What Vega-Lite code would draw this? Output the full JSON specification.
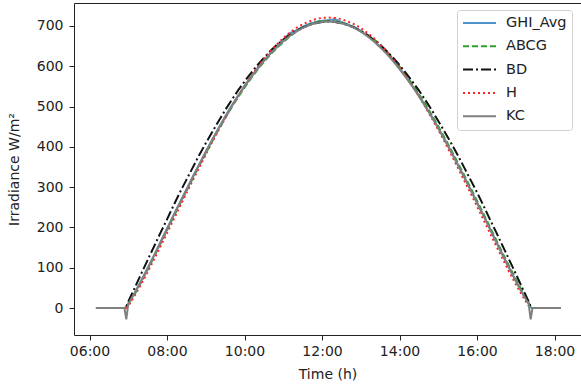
{
"$schema":"https://vega.github.io/schema/vega-lite/v6.json",
"width":507,"height":332,
"autosize":{"type":"none"},
"padding":{"left":74,"top":3,"right":0,"bottom":51},
"config":{"font":"DejaVu Sans","view":{"stroke":"#222","strokeWidth":1},
"axis":{"grid":false,"domain":false,"tickColor":"#222","tickSize":5,"labelFontSize":14,"titleFontSize":14,"labelColor":"#222","titleColor":"#222","titleFontWeight":"normal"}},
"data":{"values":[
{"h":6.1667,"GHI_Avg":0,"ABCG":0,"BD":0,"H":0,"KC":0},
{"h":6.5,"GHI_Avg":0,"ABCG":0,"BD":0,"H":0,"KC":0},
{"h":6.9,"GHI_Avg":0,"ABCG":0,"BD":0,"H":0,"KC":0},
{"h":6.95,"GHI_Avg":2,"ABCG":1,"BD":4,"H":0,"KC":-28},
{"h":7.0,"GHI_Avg":11,"ABCG":9,"BD":16,"H":5,"KC":10},
{"h":7.1667,"GHI_Avg":38,"ABCG":34,"BD":50,"H":31,"KC":37},
{"h":7.3333,"GHI_Avg":68,"ABCG":64,"BD":85,"H":59,"KC":67},
{"h":7.5,"GHI_Avg":99,"ABCG":95,"BD":119,"H":89,"KC":98},
{"h":7.6667,"GHI_Avg":131,"ABCG":127,"BD":153,"H":121,"KC":130},
{"h":7.8333,"GHI_Avg":164,"ABCG":160,"BD":187,"H":153,"KC":163},
{"h":8.0,"GHI_Avg":197,"ABCG":193,"BD":220,"H":186,"KC":196},
{"h":8.1667,"GHI_Avg":230,"ABCG":226,"BD":254,"H":219,"KC":229},
{"h":8.3333,"GHI_Avg":262,"ABCG":258,"BD":287,"H":252,"KC":261},
{"h":8.5,"GHI_Avg":294,"ABCG":290,"BD":318,"H":285,"KC":293},
{"h":8.6667,"GHI_Avg":326,"ABCG":322,"BD":349,"H":317,"KC":325},
{"h":8.8333,"GHI_Avg":357,"ABCG":353,"BD":380,"H":349,"KC":356},
{"h":9.0,"GHI_Avg":388,"ABCG":384,"BD":409,"H":381,"KC":387},
{"h":9.1667,"GHI_Avg":418,"ABCG":414,"BD":437,"H":412,"KC":417},
{"h":9.3333,"GHI_Avg":447,"ABCG":443,"BD":464,"H":442,"KC":446},
{"h":9.5,"GHI_Avg":475,"ABCG":471,"BD":491,"H":471,"KC":474},
{"h":9.6667,"GHI_Avg":502,"ABCG":498,"BD":516,"H":499,"KC":500},
{"h":9.8333,"GHI_Avg":527,"ABCG":523,"BD":540,"H":526,"KC":526},
{"h":10.0,"GHI_Avg":551,"ABCG":547,"BD":562,"H":551,"KC":550},
{"h":10.1667,"GHI_Avg":574,"ABCG":570,"BD":583,"H":575,"KC":572},
{"h":10.3333,"GHI_Avg":595,"ABCG":591,"BD":603,"H":597,"KC":593},
{"h":10.5,"GHI_Avg":615,"ABCG":611,"BD":621,"H":618,"KC":613},
{"h":10.6667,"GHI_Avg":633,"ABCG":629,"BD":638,"H":637,"KC":631},
{"h":10.8333,"GHI_Avg":649,"ABCG":645,"BD":653,"H":654,"KC":647},
{"h":11.0,"GHI_Avg":666,"ABCG":660,"BD":666,"H":670,"KC":662},
{"h":11.1667,"GHI_Avg":682,"ABCG":674,"BD":678,"H":683,"KC":675},
{"h":11.3333,"GHI_Avg":689,"ABCG":686,"BD":688,"H":695,"KC":686},
{"h":11.5,"GHI_Avg":698,"ABCG":696,"BD":696,"H":704,"KC":695},
{"h":11.6667,"GHI_Avg":705,"ABCG":703,"BD":702,"H":711,"KC":702},
{"h":11.8333,"GHI_Avg":710,"ABCG":709,"BD":707,"H":717,"KC":707},
{"h":12.0,"GHI_Avg":713,"ABCG":712,"BD":710,"H":720,"KC":710},
{"h":12.1667,"GHI_Avg":714,"ABCG":713,"BD":711,"H":721,"KC":711},
{"h":12.3333,"GHI_Avg":717,"ABCG":712,"BD":710,"H":720,"KC":710},
{"h":12.5,"GHI_Avg":710,"ABCG":709,"BD":707,"H":717,"KC":707},
{"h":12.6667,"GHI_Avg":704,"ABCG":703,"BD":702,"H":711,"KC":702},
{"h":12.8333,"GHI_Avg":697,"ABCG":696,"BD":696,"H":704,"KC":695},
{"h":13.0,"GHI_Avg":688,"ABCG":687,"BD":688,"H":695,"KC":686},
{"h":13.1667,"GHI_Avg":676,"ABCG":677,"BD":678,"H":683,"KC":675},
{"h":13.3333,"GHI_Avg":664,"ABCG":668,"BD":666,"H":670,"KC":662},
{"h":13.5,"GHI_Avg":649,"ABCG":653,"BD":653,"H":654,"KC":647},
{"h":13.6667,"GHI_Avg":633,"ABCG":637,"BD":638,"H":637,"KC":631},
{"h":13.8333,"GHI_Avg":615,"ABCG":619,"BD":621,"H":618,"KC":613},
{"h":14.0,"GHI_Avg":595,"ABCG":599,"BD":603,"H":597,"KC":593},
{"h":14.1667,"GHI_Avg":574,"ABCG":578,"BD":583,"H":575,"KC":572},
{"h":14.3333,"GHI_Avg":551,"ABCG":555,"BD":562,"H":551,"KC":550},
{"h":14.5,"GHI_Avg":527,"ABCG":531,"BD":540,"H":526,"KC":526},
{"h":14.6667,"GHI_Avg":502,"ABCG":506,"BD":516,"H":499,"KC":500},
{"h":14.8333,"GHI_Avg":475,"ABCG":479,"BD":491,"H":471,"KC":474},
{"h":15.0,"GHI_Avg":447,"ABCG":451,"BD":464,"H":442,"KC":446},
{"h":15.1667,"GHI_Avg":418,"ABCG":422,"BD":437,"H":412,"KC":417},
{"h":15.3333,"GHI_Avg":388,"ABCG":392,"BD":409,"H":381,"KC":387},
{"h":15.5,"GHI_Avg":357,"ABCG":361,"BD":380,"H":349,"KC":356},
{"h":15.6667,"GHI_Avg":326,"ABCG":330,"BD":349,"H":317,"KC":325},
{"h":15.8333,"GHI_Avg":294,"ABCG":298,"BD":318,"H":285,"KC":293},
{"h":16.0,"GHI_Avg":262,"ABCG":266,"BD":287,"H":252,"KC":261},
{"h":16.1667,"GHI_Avg":230,"ABCG":234,"BD":254,"H":219,"KC":229},
{"h":16.3333,"GHI_Avg":197,"ABCG":201,"BD":220,"H":186,"KC":196},
{"h":16.5,"GHI_Avg":164,"ABCG":168,"BD":187,"H":153,"KC":163},
{"h":16.6667,"GHI_Avg":131,"ABCG":135,"BD":153,"H":121,"KC":130},
{"h":16.8333,"GHI_Avg":99,"ABCG":103,"BD":119,"H":89,"KC":98},
{"h":17.0,"GHI_Avg":68,"ABCG":72,"BD":85,"H":59,"KC":67},
{"h":17.1667,"GHI_Avg":38,"ABCG":42,"BD":50,"H":31,"KC":37},
{"h":17.3333,"GHI_Avg":11,"ABCG":13,"BD":16,"H":5,"KC":10},
{"h":17.3833,"GHI_Avg":1,"ABCG":2,"BD":4,"H":0,"KC":-28},
{"h":17.4333,"GHI_Avg":0,"ABCG":0,"BD":0,"H":0,"KC":0},
{"h":17.75,"GHI_Avg":0,"ABCG":0,"BD":0,"H":0,"KC":0},
{"h":18.1667,"GHI_Avg":0,"ABCG":0,"BD":0,"H":0,"KC":0}
]},
"transform":[{"fold":["GHI_Avg","ABCG","BD","H","KC"],"as":["series","value"]}],
"mark":{"type":"line","strokeWidth":2},
"encoding":{
"x":{"field":"h","type":"quantitative","scale":{"domain":[5.6,18.683],"nice":false,"zero":false},
"axis":{"values":[6,8,10,12,14,16,18],"labelExpr":"(datum.value<10?'0':'')+datum.value+':00'","title":"Time (h)","labelPadding":4,"titlePadding":9}},
"y":{"field":"value","type":"quantitative","scale":{"domain":[-67,757],"nice":false,"zero":false},
"axis":{"values":[0,100,200,300,400,500,600,700],"title":"Irradiance W/m²","labelPadding":6,"titlePadding":15}},
"color":{"field":"series","type":"nominal","scale":{"domain":["GHI_Avg","ABCG","BD","H","KC"],"range":["#4f93cc","#2ca02c","#111111","#ff2222","#808080"]},
"legend":{"title":null,"orient":"none","legendX":383,"legendY":7,"symbolType":"stroke","symbolSize":1089,"symbolStrokeWidth":2,"clipHeight":16,"rowPadding":7.3,"labelFontSize":14.5,"labelOffset":9,"labelColor":"#222","padding":5,"strokeColor":"#d0d0d0","fillColor":"white","cornerRadius":3}},
"strokeDash":{"field":"series","type":"nominal","scale":{"domain":["GHI_Avg","ABCG","BD","H","KC"],"range":[[1,0],[6,3],[10,3,2,3],[2,3],[1,0]]},
"legend":{"title":null,"orient":"none","legendX":383,"legendY":7,"symbolType":"stroke","symbolSize":1089,"symbolStrokeWidth":2,"clipHeight":16,"rowPadding":7.3,"labelFontSize":14.5,"labelOffset":9,"labelColor":"#222","padding":5,"strokeColor":"#d0d0d0","fillColor":"white","cornerRadius":3}}
}
}
